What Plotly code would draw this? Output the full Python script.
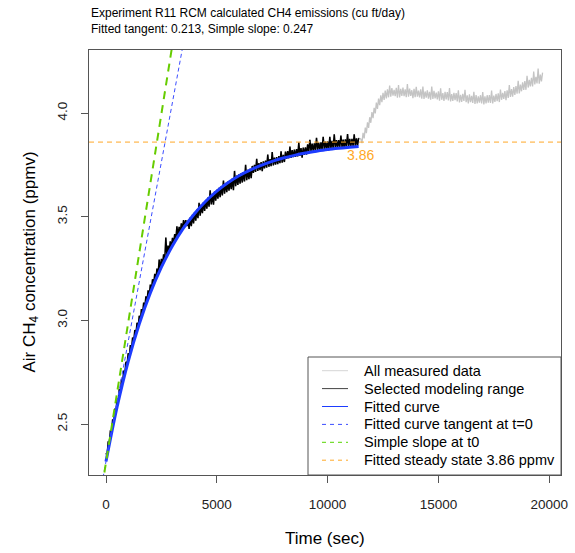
import plotly.graph_objects as go

# ---------------- data ----------------
# Selected modeling range (black): upper edge of the noisy band every 100 s (t = 0 ... 11400)
sel_hi = [
    2.36, 2.417, 2.471, 2.524, 2.575, 2.623, 2.67, 2.716, 2.759, 2.801,
    2.842, 2.881, 2.918, 2.954, 2.989, 3.023, 3.055, 3.086, 3.116, 3.145,
    3.173, 3.199, 3.225, 3.25, 3.294, 3.297, 3.319, 3.40, 3.361, 3.381,
    3.398, 3.416, 3.454, 3.451, 3.468, 3.484, 3.484, 3.481, 3.496, 3.509,
    3.522, 3.535, 3.567, 3.559, 3.570, 3.581, 3.592, 3.627, 3.611, 3.621,
    3.630, 3.639, 3.647, 3.675, 3.663, 3.670, 3.677, 3.684, 3.721, 3.698,
    3.704, 3.710, 3.715, 3.751, 3.726, 3.731, 3.745, 3.750, 3.779, 3.759,
    3.763, 3.767, 3.771, 3.800, 3.778, 3.812, 3.785, 3.788, 3.792, 3.815,
    3.798, 3.814, 3.816, 3.839, 3.821, 3.824, 3.826, 3.858, 3.831, 3.833,
    3.835, 3.849, 3.871, 3.853, 3.854, 3.881, 3.858, 3.859, 3.886, 3.862,
    3.864, 3.885, 3.866, 3.897, 3.869, 3.870, 3.891, 3.872, 3.873, 3.899,
    3.875, 3.876, 3.897, 3.878, 3.879,
]
# lower edge of the band, read half-way between (t = 50 ... 11350)
sel_lo = [
    2.349, 2.404, 2.458, 2.51, 2.559, 2.607, 2.653, 2.698, 2.74, 2.782,
    2.822, 2.86, 2.896, 2.932, 2.966, 2.999, 3.031, 3.061, 3.091, 3.119,
    3.146, 3.172, 3.198, 3.222, 3.246, 3.268, 3.29, 3.311, 3.331, 3.351,
    3.371, 3.389, 3.407, 3.424, 3.440, 3.456, 3.455, 3.441, 3.455, 3.468,
    3.481, 3.493, 3.505, 3.517, 3.528, 3.539, 3.549, 3.559, 3.558, 3.578,
    3.587, 3.595, 3.603, 3.611, 3.619, 3.626, 3.633, 3.628, 3.647, 3.653,
    3.659, 3.665, 3.670, 3.676, 3.681, 3.686, 3.712, 3.716, 3.721, 3.725,
    3.720, 3.733, 3.737, 3.741, 3.744, 3.748, 3.751, 3.754, 3.758, 3.761,
    3.764, 3.779, 3.782, 3.784, 3.787, 3.789, 3.791, 3.794, 3.785, 3.798,
    3.800, 3.814, 3.816, 3.818, 3.819, 3.821, 3.823, 3.824, 3.826, 3.827,
    3.820, 3.830, 3.831, 3.832, 3.834, 3.835, 3.836, 3.828, 3.838, 3.839,
    3.840, 3.841, 3.842, 3.843,
]
sel_hi_time = [100 * i for i in range(len(sel_hi))]
sel_lo_time = [50 + 100 * i for i in range(len(sel_lo))]

# Remaining measured data (gray): upper edge every 100 s (t = 11500 ... 19700)
post_hi = [
    3.875, 3.905, 3.93, 3.955, 3.98, 4.005, 4.025, 4.05, 4.07, 4.085,
    4.098, 4.108, 4.114, 4.133, 4.12, 4.112, 4.122, 4.135, 4.117, 4.123,
    4.114, 4.14, 4.118, 4.11, 4.117, 4.126, 4.108, 4.114, 4.128, 4.104,
    4.11, 4.102, 4.128, 4.107, 4.099, 4.105, 4.119, 4.096, 4.102, 4.101,
    4.12, 4.091, 4.097, 4.096, 4.11, 4.088, 4.093, 4.112, 4.085, 4.09,
    4.083, 4.103, 4.087, 4.08, 4.086, 4.101, 4.081, 4.086, 4.087, 4.108,
    4.084, 4.092, 4.095, 4.113, 4.097, 4.106, 4.11, 4.135, 4.115, 4.125,
    4.13, 4.156, 4.137, 4.148, 4.154, 4.18, 4.16, 4.17, 4.20, 4.175,
    4.215, 4.185, 4.195,
]
# lower edge (t = 11550 ... 19650)
post_lo = [
    3.855, 3.878, 3.903, 3.928, 3.953, 3.975, 3.998, 4.02, 4.038, 4.052,
    4.063, 4.071, 4.076, 4.079, 4.084, 4.081, 4.074, 4.075, 4.083, 4.081,
    4.077, 4.079, 4.083, 4.072, 4.077, 4.079, 4.075, 4.069, 4.068, 4.074,
    4.07, 4.064, 4.068, 4.071, 4.066, 4.06, 4.064, 4.058, 4.066, 4.061,
    4.056, 4.058, 4.062, 4.056, 4.051, 4.054, 4.058, 4.052, 4.046, 4.053,
    4.049, 4.044, 4.047, 4.05, 4.046, 4.042, 4.046, 4.05, 4.049, 4.046,
    4.054, 4.057, 4.053, 4.064, 4.068, 4.062, 4.073, 4.078, 4.079, 4.088,
    4.093, 4.095, 4.105, 4.111, 4.112, 4.123, 4.128, 4.128, 4.138, 4.143,
    4.142, 4.153,
]
post_hi_time = [11500 + 100 * i for i in range(len(post_hi))]
post_lo_time = [11550 + 100 * i for i in range(len(post_lo))]

# Fitted curve (blue), read every 500 s
fit_time = [0, 500, 1000, 1500, 2000, 2500, 3000, 3500, 4000, 4500, 5000,
            5500, 6000, 6500, 7000, 7500, 8000, 8500, 9000, 9500, 10000,
            10500, 11000, 11400]
fit_ppm = [2.32, 2.583, 2.802, 2.983, 3.133, 3.257, 3.360, 3.446, 3.516,
           3.575, 3.624, 3.664, 3.698, 3.725, 3.748, 3.767, 3.783, 3.796,
           3.807, 3.816, 3.824, 3.830, 3.835, 3.839]

# Straight reference lines
tangent_intercept, tangent_slope = 2.32, 0.0005775   # fitted curve tangent at t=0
simple_intercept, simple_slope = 2.316, 0.000672      # simple slope at t0
steady_state = 3.86

x_tick_vals = [0, 5000, 10000, 15000, 20000]
x_tick_text = ["0", "5000", "10000", "15000", "20000"]
y_tick_vals = [2.5, 3.0, 3.5, 4.0]
y_tick_text = ["2.5", "3.0", "3.5", "4.0"]

legend_names = ["All measured data", "Selected modeling range", "Fitted curve",
                "Fitted curve tangent at t=0", "Simple slope at t0",
                "Fitted steady state 3.86 ppmv"]


def interleave(t_a, v_a, t_b, v_b):
    """Merge the two edge readings into one time-ordered noisy trace."""
    pts = sorted(list(zip(t_a, v_a)) + list(zip(t_b, v_b)))
    return [p[0] for p in pts], [p[1] for p in pts]


sel_time, sel_ppm = interleave(sel_hi_time, sel_hi, sel_lo_time, sel_lo)
post_time, post_ppm = interleave(post_hi_time, post_hi, post_lo_time, post_lo)
all_time = sel_time + post_time
all_ppm = sel_ppm + post_ppm

# ---------------- styling ----------------
FONT = "Liberation Sans, Arial, Helvetica, sans-serif"
GRAY = "#c4c4c4"
BLUE = "#1d3cff"
BLUE_D = "#3b4dff"
GREEN = "#66cc00"
ORANGE = "#ffa826"
AXC = "#555555"
X_RANGE = [-767, 20532]
Y_RANGE = [2.255, 4.304]

fig = go.Figure()
fig.add_trace(go.Scatter(x=all_time, y=all_ppm, mode="lines", name=legend_names[0],
                         line=dict(color=GRAY, width=1.3), hoverinfo="skip"))
fig.add_trace(go.Scatter(x=sel_time, y=sel_ppm, mode="lines", name=legend_names[1],
                         line=dict(color="black", width=1.5), hoverinfo="skip"))
fig.add_trace(go.Scatter(x=fit_time, y=fit_ppm, mode="lines", name=legend_names[2],
                         line=dict(color=BLUE, width=3, shape="spline")))

xl, xh = X_RANGE
fig.add_trace(go.Scatter(x=[xl, xh], name=legend_names[3],
                         y=[tangent_intercept + tangent_slope * xl, tangent_intercept + tangent_slope * xh],
                         mode="lines", line=dict(color=BLUE_D, width=1, dash="4px,3px")))
fig.add_trace(go.Scatter(x=[xl, xh], name=legend_names[4],
                         y=[simple_intercept + simple_slope * xl, simple_intercept + simple_slope * xh],
                         mode="lines", line=dict(color=GREEN, width=2, dash="8px,6px")))
fig.add_trace(go.Scatter(x=[xl, xh], y=[steady_state, steady_state], name=legend_names[5],
                         mode="lines", line=dict(color=ORANGE, width=1, dash="5px,4px")))

fig.add_annotation(x=11500, y=steady_state, text="3.86", showarrow=False, xref="x", yref="y",
                   yanchor="top", yshift=-3, font=dict(family=FONT, size=14, color=ORANGE))

title_lines = ["Experiment R11 RCM calculated CH4 emissions (cu ft/day)",
               "Fitted tangent: 0.213, Simple slope: 0.247"]
for i, t in enumerate(title_lines):
    fig.add_annotation(x=0.0, xref="paper", y=1, yref="paper", yanchor="middle", xanchor="left",
                       yshift=37 - 15.5 * i, text=t, showarrow=False,
                       font=dict(family=FONT, size=12, color="black"))

fig.add_annotation(x=0.5, xref="paper", y=0, yref="paper", yshift=-63, yanchor="middle",
                   text="Time (sec)", showarrow=False, font=dict(family=FONT, size=17, color="black"))
fig.add_annotation(x=0, xref="paper", y=0.5, yref="paper", xshift=-59, xanchor="center",
                   text="Air CH<sub>4</sub> concentration (ppmv)", textangle=-90, showarrow=False,
                   font=dict(family=FONT, size=17, color="black"))

# ---------------- hand-built legend (R style) ----------------
PX0, PX1, PY0, PY1 = 89, 561, 50, 475          # plot-area pixel box on the page
def px(x):
    return (x - PX0) / (PX1 - PX0)
def py(y):
    return (PY1 - y) / (PY1 - PY0)

fig.add_shape(type="rect", xref="paper", yref="paper", x0=px(308), x1=1, y0=0, y1=py(357),
              line=dict(color=AXC, width=1), fillcolor="white", layer="above")
leg_styles = [dict(color="#d6d6d6", width=1), dict(color="#444444", width=1),
              dict(color=BLUE, width=1), dict(color=BLUE_D, width=1, dash="4px,4px"),
              dict(color="#77dd33", width=1.2, dash="4px,4px"), dict(color=ORANGE, width=1, dash="4px,4px")]
row_y = [370.7, 388.6, 406.5, 424.4, 442.3, 460.2]
for name, st, ry in zip(legend_names, leg_styles, row_y):
    fig.add_shape(type="line", xref="paper", yref="paper", x0=px(322), x1=px(348),
                  y0=py(ry), y1=py(ry), line=st, layer="above")
    fig.add_annotation(x=px(362), y=py(ry), xref="paper", yref="paper", xanchor="left",
                       yanchor="middle", text=name, showarrow=False,
                       font=dict(family=FONT, size=14.5, color="black"))

fig.update_layout(
    width=575, height=553,
    margin=dict(l=89, r=14, t=50, b=78),
    paper_bgcolor="white", plot_bgcolor="white",
    font=dict(family=FONT, color="black"),
    showlegend=False,
    xaxis=dict(range=X_RANGE, tickvals=x_tick_vals, ticktext=x_tick_text, ticks="outside",
               ticklen=7, tickcolor=AXC, automargin=False,
               showline=True, linecolor=AXC, linewidth=1, mirror=True, showgrid=False, zeroline=False,
               tickfont=dict(family=FONT, size=13.5, color="#222"), ticklabelstandoff=10),
    yaxis=dict(range=Y_RANGE, tickvals=y_tick_vals, ticktext=y_tick_text, tickangle=-90,
               ticks="outside", ticklen=7, tickcolor=AXC, automargin=False,
               showline=True, linecolor=AXC, linewidth=1, mirror=True, showgrid=False, zeroline=False,
               tickfont=dict(family=FONT, size=13.5, color="#222"), ticklabelstandoff=9),
)

# remove the page's default 8px body margin so the figure sits at the window's corner
fig.write_html("out.html", config={"displayModeBar": False},
               post_script="document.body.style.margin='0';")
